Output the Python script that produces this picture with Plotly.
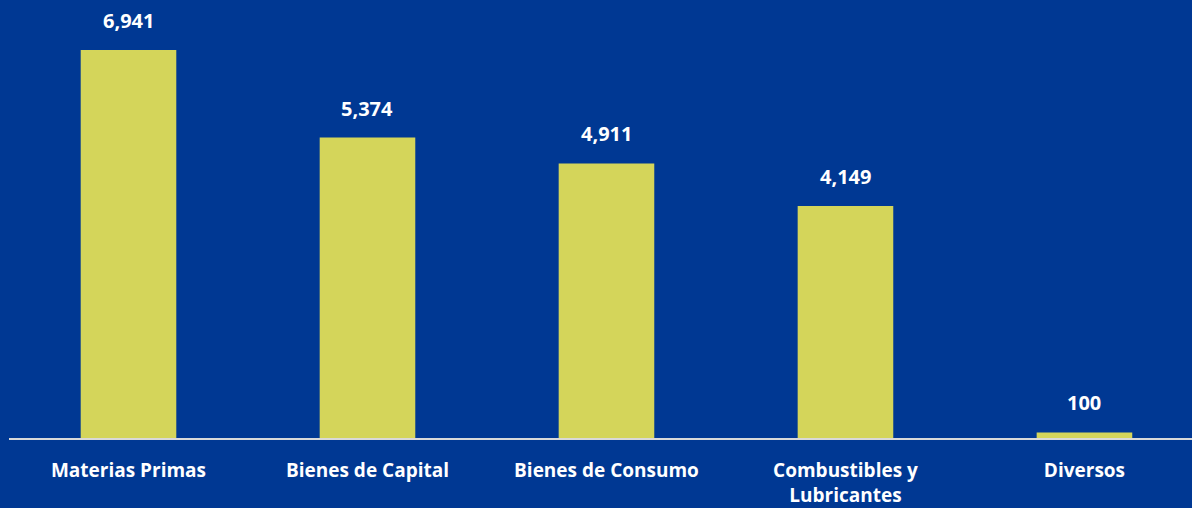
import plotly.graph_objects as go

categories = ["Materias Primas", "Bienes de Capital", "Bienes de Consumo", "Combustibles y<br>Lubricantes", "Diversos"]
values = [6941, 5374, 4911, 4149, 100]
labels = ["6,941", "5,374", "4,911", "4,149", "100"]

BG = "#003893"
BAR = "#D4D55A"
FONT = "Open Sans"

fig = go.Figure(go.Bar(
    x=categories, y=values, marker=dict(color=BAR, line=dict(width=0)),
    width=0.4, hoverinfo="skip"))

for c, v, t in zip(categories, values, labels):
    fig.add_annotation(x=c, y=v, text=f"<b>{t}</b>", showarrow=False,
                       yanchor="bottom", yshift=14,
                       font=dict(family=FONT, size=20, color="white"))

fig.update_layout(
    width=1192, height=508,
    paper_bgcolor=BG, plot_bgcolor=BG,
    margin=dict(l=9, r=0, t=0, b=70),
    showlegend=False,
    bargap=0.6,
    xaxis=dict(range=[-0.5, 4.45], showline=True, linecolor="#D9D9D9", linewidth=2,
               showgrid=False, zeroline=False, ticks="", ticklabelstandoff=14,
               tickfont=dict(family=FONT, size=19, color="white", weight="bold")),
    yaxis=dict(range=[0, 7835], visible=False, showgrid=False, zeroline=False),
)

fig.write_html("out.html", config={"displayModeBar": False},
               post_script="document.body.style.margin='0';document.body.style.background='#003893';")
